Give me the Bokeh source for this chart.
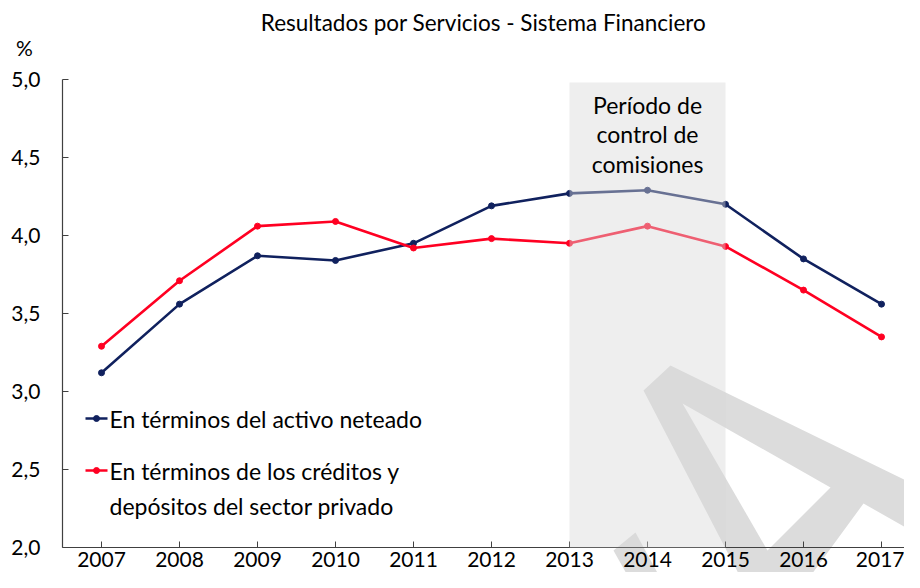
from bokeh.plotting import figure
from bokeh.models import (Range1d, FixedTicker, CustomJSTickFormatter, BoxAnnotation,
                          Label, PolyAnnotation)
from bokeh.embed import file_html
from bokeh.resources import INLINE

# ---------------- data ----------------
years = [2007, 2008, 2009, 2010, 2011, 2012, 2013, 2014, 2015, 2016, 2017]
activo_neteado = [3.12, 3.56, 3.87, 3.84, 3.95, 4.19, 4.27, 4.29, 4.20, 3.85, 3.56]
creditos_depositos = [3.29, 3.71, 4.06, 4.09, 3.92, 3.98, 3.95, 4.06, 3.93, 3.65, 3.35]
y_ticks = [2.0, 2.5, 3.0, 3.5, 4.0, 4.5, 5.0]
title_text = "Resultados por Servicios - Sistema Financiero"
y_unit = "%"
period_start, period_end = 2013, 2015
period_lines = ["Período de", "control de", "comisiones"]
legend_1 = ["En términos del activo neteado"]
legend_2 = ["En términos de los créditos y", "depósitos del sector privado"]

NAVY = "#10215e"
RED = "#ff0022"
FONT = "Lato"

W, H = 904, 572
# pixel geometry of the plotting area inside the canvas
AX_X, AX_TOP, AX_BOT = 62, 79, 547     # y-axis x, 5.0 level, 2.0 level
PX_PER_YEAR = 78.0
X_AXIS_START = 2006.5
Y0, Y1 = 2.0, 5.0
PX_PER_UNIT = (AX_BOT - AX_TOP) / (Y1 - Y0)

x_lo = X_AXIS_START - AX_X / PX_PER_YEAR
x_hi = x_lo + W / PX_PER_YEAR
y_lo = Y0 - (H - AX_BOT) / PX_PER_UNIT
y_hi = Y1 + AX_TOP / PX_PER_UNIT

p = figure(width=W, height=H, output_backend="svg", toolbar_location=None,
           x_range=Range1d(x_lo, x_hi), y_range=Range1d(y_lo, y_hi),
           min_border=0, min_border_left=0, min_border_right=0,
           min_border_top=0, min_border_bottom=0)
p.outline_line_color = None
p.xgrid.visible = False
p.ygrid.visible = False
p.background_fill_color = "white"
p.border_fill_color = "white"

def dx(px):  # canvas px -> data x (decorations only)
    return x_lo + px / PX_PER_YEAR
def dy(py):  # canvas py -> data y (decorations only)
    return y_hi - py / PX_PER_UNIT

# ---------------- watermark (letter shape) ----------------
WM = "#dcdcdc"
outer = [(643, 390), (670, 365), (930, 492), (930, 541), (863, 503), (792, 600), (752, 600)]
hole = [(682, 403), (830, 487), (767, 550)]
other = [(613, 550), (635, 532), (672, 600), (641, 600)]
for poly, col in [(outer, WM), (hole, "white"), (other, WM)]:
    p.add_layout(PolyAnnotation(xs=[dx(a) for a, b in poly], ys=[dy(b) for a, b in poly],
                                fill_color=col, fill_alpha=1.0, line_color=None,
                                level="underlay"))

# ---------------- series ----------------
p.line(years, activo_neteado, line_color=NAVY, line_width=2.6)
p.scatter(years, activo_neteado, size=6, color=NAVY)
p.line(years, creditos_depositos, line_color=RED, line_width=2.6)
p.scatter(years, creditos_depositos, size=6, color=RED)

# ---------------- shaded period ----------------
p.add_layout(BoxAnnotation(left=period_start, right=period_end, bottom=Y0, top=dy(82),
                           fill_color="#d9d9d9", fill_alpha=0.44, line_color=None))
for i, t in enumerate(period_lines):
    p.add_layout(Label(x=(period_start + period_end) / 2, y=dy(104 + i * 29.5), text=t,
                       text_align="center", text_baseline="middle",
                       text_font=FONT, text_font_size="23px", text_color="#000000"))

# ---------------- manual legend ----------------
for py, col, lines in [(418, NAVY, legend_1), (470, RED, legend_2)]:
    p.line([dx(85), dx(107)], [dy(py), dy(py)], line_color=col, line_width=2.6)
    p.scatter([dx(96)], [dy(py)], size=6, color=col)
    for j, t in enumerate(lines):
        p.add_layout(Label(x=dx(109), y=dy(py + j * 35), text=t,
                           text_align="left", text_baseline="middle",
                           text_font=FONT, text_font_size="23px", text_color="#000000"))

# ---------------- title and unit ----------------
p.add_layout(Label(x=dx(483), y=dy(22), text=title_text,
                   text_align="center", text_baseline="middle",
                   text_font=FONT, text_font_size="22.5px", text_color="#000000"))
p.add_layout(Label(x=dx(24), y=dy(47), text=y_unit,
                   text_align="center", text_baseline="middle",
                   text_font=FONT, text_font_size="21px", text_color="#000000"))

# ---------------- axes ----------------
AX = "#404040"
p.xaxis.ticker = FixedTicker(ticks=years)
p.yaxis.ticker = FixedTicker(ticks=y_ticks)
p.yaxis.formatter = CustomJSTickFormatter(code="return tick.toFixed(1).replace('.', ',');")
p.xaxis.fixed_location = Y0
p.yaxis.fixed_location = X_AXIS_START
p.xaxis.bounds = (X_AXIS_START, x_hi)
p.yaxis.bounds = (Y0, Y1)
for ax in (p.xaxis[0], p.yaxis[0]):
    ax.axis_line_color = AX
    ax.axis_line_width = 1.2
    ax.major_tick_line_color = AX
    ax.major_tick_in = 6
    ax.major_tick_out = 0
    ax.minor_tick_line_color = None
    ax.major_label_text_font = FONT
    ax.major_label_text_font_size = "21px"
    ax.major_label_text_color = "#000000"
p.xaxis.major_label_standoff = 4
p.yaxis.major_label_standoff = 22

open("out.html", "w").write(file_html(p, INLINE))
